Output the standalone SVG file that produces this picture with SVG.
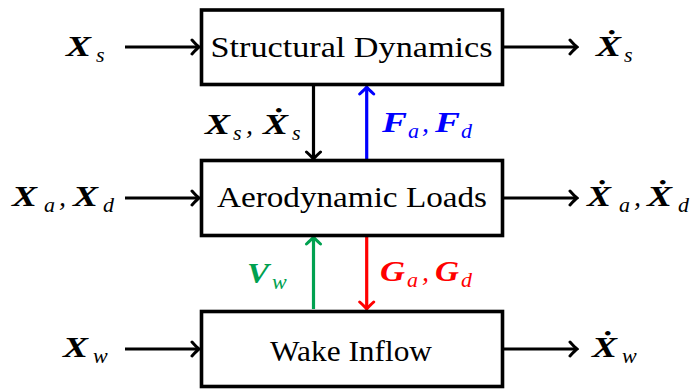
<svg xmlns="http://www.w3.org/2000/svg" width="694" height="390" viewBox="0 0 694 390">
<defs>
<style>
.box{fill:#fff;stroke:#000;stroke-width:3.6}
.bt{font-size:30px;fill:#000;text-anchor:middle}
.m{font-size:29px;font-weight:bold;font-style:italic}
.s{font-size:22px;font-style:italic;font-weight:normal}
.c{font-size:28px;font-style:italic;font-weight:normal}
.ln{fill:none;stroke-width:3.2}
</style>
<marker id="ak" viewBox="-10 -10 12 20" refX="0" refY="0" markerWidth="12" markerHeight="20" markerUnits="userSpaceOnUse" orient="auto">
<path d="M-7,-7 Q-2,-1.5 0,0 Q-2,1.5 -7,7" fill="none" stroke="#000" stroke-width="3" stroke-linecap="round"/>
</marker>
<marker id="ab" viewBox="-10 -10 12 20" refX="0" refY="0" markerWidth="12" markerHeight="20" markerUnits="userSpaceOnUse" orient="auto">
<path d="M-7,-7 Q-2,-1.5 0,0 Q-2,1.5 -7,7" fill="none" stroke="#0000ff" stroke-width="3" stroke-linecap="round"/>
</marker>
<marker id="ar" viewBox="-10 -10 12 20" refX="0" refY="0" markerWidth="12" markerHeight="20" markerUnits="userSpaceOnUse" orient="auto">
<path d="M-7,-7 Q-2,-1.5 0,0 Q-2,1.5 -7,7" fill="none" stroke="#ff0000" stroke-width="3" stroke-linecap="round"/>
</marker>
<marker id="ag" viewBox="-10 -10 12 20" refX="0" refY="0" markerWidth="12" markerHeight="20" markerUnits="userSpaceOnUse" orient="auto">
<path d="M-7,-7 Q-2,-1.5 0,0 Q-2,1.5 -7,7" fill="none" stroke="#00a150" stroke-width="3" stroke-linecap="round"/>
</marker>
</defs>

<g id="connectors">
<line class="ln" stroke="#000" x1="125" y1="47" x2="199" y2="47" marker-end="url(#ak)"/>
<line class="ln" stroke="#000" x1="504" y1="47" x2="577" y2="47" marker-end="url(#ak)"/>
<line class="ln" stroke="#000" x1="125" y1="198" x2="199" y2="198" marker-end="url(#ak)"/>
<line class="ln" stroke="#000" x1="504" y1="198" x2="577" y2="198" marker-end="url(#ak)"/>
<line class="ln" stroke="#000" x1="125" y1="349" x2="199" y2="349" marker-end="url(#ak)"/>
<line class="ln" stroke="#000" x1="504" y1="349" x2="577" y2="349" marker-end="url(#ak)"/>
<line class="ln" stroke="#000" x1="313.5" y1="86" x2="313.5" y2="159" marker-end="url(#ak)"/>
<line class="ln" stroke="#0000ff" x1="366.7" y1="159" x2="366.7" y2="87" marker-end="url(#ab)"/>
<line class="ln" stroke="#ff0000" x1="366.7" y1="237" x2="366.7" y2="309" marker-end="url(#ar)"/>
<line class="ln" stroke="#00a150" x1="313.5" y1="309" x2="313.5" y2="237" marker-end="url(#ag)"/>
</g>

<g font-family="Liberation Serif, Times New Roman, serif">
<g id="structural">
<rect class="box" x="201.5" y="10" width="301" height="74.5"/>
<text class="bt" x="351.5" y="57" textLength="282" lengthAdjust="spacingAndGlyphs">Structural Dynamics</text>
</g>
<g id="aero">
<rect class="box" x="201.5" y="160.5" width="301" height="75"/>
<text class="bt" x="352" y="207" textLength="270" lengthAdjust="spacingAndGlyphs">Aerodynamic Loads</text>
</g>
<g id="wake">
<rect class="box" x="201.5" y="311.5" width="301" height="75"/>
<text class="bt" x="351" y="361" textLength="162" lengthAdjust="spacingAndGlyphs">Wake Inflow</text>
</g>

<g id="labels">
<text class="m" x="66" y="56" fill="#000"><tspan textLength="25" lengthAdjust="spacingAndGlyphs">X</tspan><tspan class="s" x="96" y="62">s</tspan></text>
<text class="m" x="596" y="56" fill="#000"><tspan textLength="25" lengthAdjust="spacingAndGlyphs">Ẋ</tspan><tspan class="s" x="624" y="62">s</tspan></text>
<text class="m" x="205" y="134" fill="#000"><tspan textLength="25" lengthAdjust="spacingAndGlyphs">X</tspan><tspan class="s" x="233" y="140">s</tspan><tspan class="c" x="246" y="134">,</tspan><tspan x="263" y="134" textLength="25" lengthAdjust="spacingAndGlyphs">Ẋ</tspan><tspan class="s" x="292" y="140">s</tspan></text>
<text class="m" x="382" y="132" fill="#0000ff"><tspan textLength="25" lengthAdjust="spacingAndGlyphs">F</tspan><tspan class="s" x="408" y="138">a</tspan><tspan class="c" x="422" y="132">,</tspan><tspan x="435" y="132" textLength="25" lengthAdjust="spacingAndGlyphs">F</tspan><tspan class="s" x="461" y="138">d</tspan></text>
<text class="m" x="12" y="206" fill="#000"><tspan textLength="25" lengthAdjust="spacingAndGlyphs">X</tspan><tspan class="s" x="44" y="212">a</tspan><tspan class="c" x="59" y="206">,</tspan><tspan x="73" y="206" textLength="25" lengthAdjust="spacingAndGlyphs">X</tspan><tspan class="s" x="103" y="212">d</tspan></text>
<text class="m" x="587" y="206" fill="#000"><tspan textLength="24" lengthAdjust="spacingAndGlyphs">Ẋ</tspan><tspan class="s" x="619" y="212">a</tspan><tspan class="c" x="634" y="206">,</tspan><tspan x="647" y="206" textLength="25" lengthAdjust="spacingAndGlyphs">Ẋ</tspan><tspan class="s" x="678" y="212">d</tspan></text>
<text class="m" x="247" y="283" fill="#00a150"><tspan textLength="22" lengthAdjust="spacingAndGlyphs">V</tspan><tspan class="s" x="272" y="289">w</tspan></text>
<text class="m" x="380" y="281" fill="#ff0000"><tspan textLength="25" lengthAdjust="spacingAndGlyphs">G</tspan><tspan class="s" x="407" y="287">a</tspan><tspan class="c" x="422" y="281">,</tspan><tspan x="435" y="281" textLength="24" lengthAdjust="spacingAndGlyphs">G</tspan><tspan class="s" x="461" y="287">d</tspan></text>
<text class="m" x="63" y="357" fill="#000"><tspan textLength="25" lengthAdjust="spacingAndGlyphs">X</tspan><tspan class="s" x="93" y="363">w</tspan></text>
<text class="m" x="592" y="357" fill="#000"><tspan textLength="25" lengthAdjust="spacingAndGlyphs">Ẋ</tspan><tspan class="s" x="622" y="363">w</tspan></text>
</g>
</g>
</svg>
